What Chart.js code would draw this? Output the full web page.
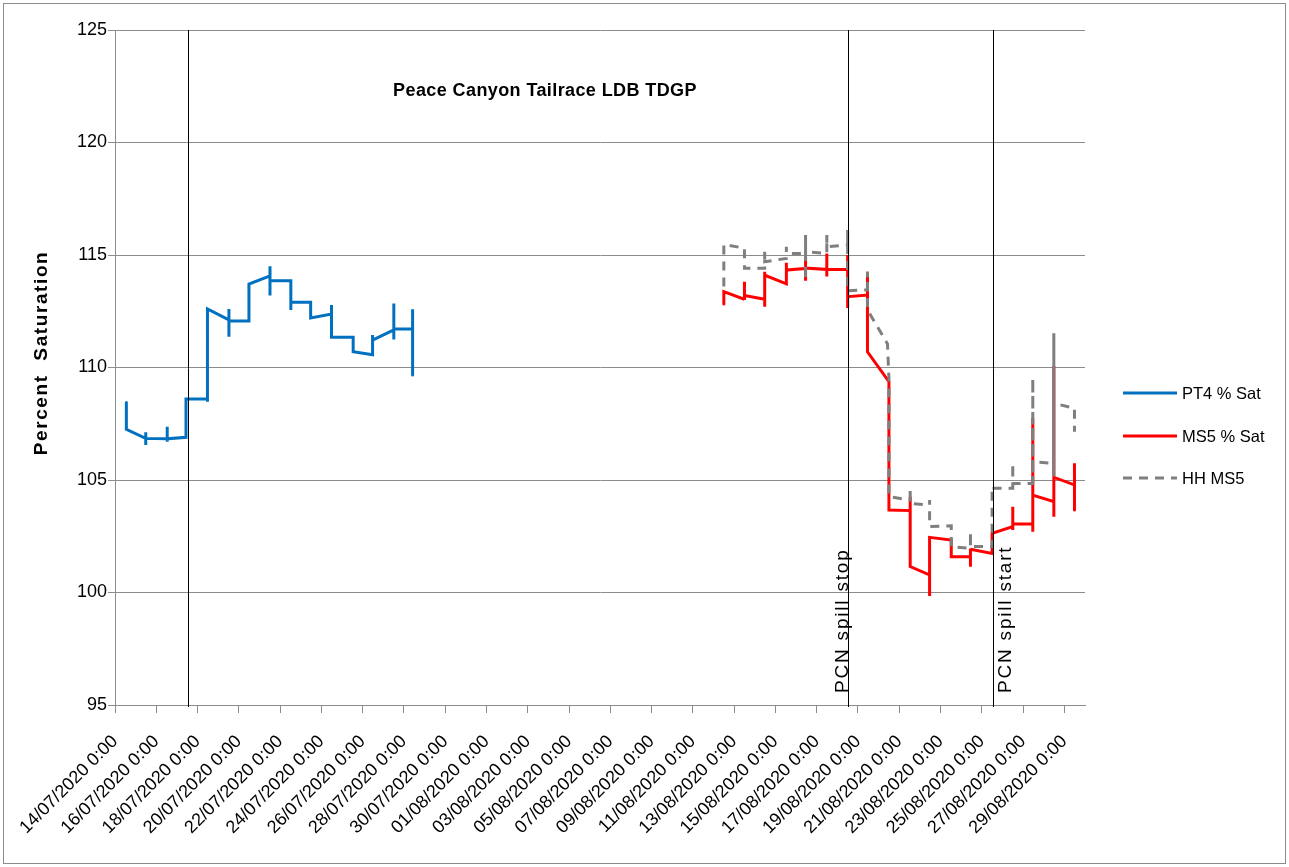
<!DOCTYPE html>
<html>
<head>
<meta charset="utf-8">
<title>Peace Canyon Tailrace LDB TDGP</title>
<script src="https://cdn.jsdelivr.net/npm/chart.js@4.4.1/dist/chart.umd.min.js"></script>
<style>
  html, body { margin: 0; padding: 0; background: #fff; }
  #wrap { position: relative; width: 1289px; height: 867px; }
</style>
</head>
<body>
<div id="wrap"><canvas id="tdgpChart" width="1289" height="867"></canvas></div>
<script>
// x values are days after 14/07/2020 0:00
const tickLabels = [
  '14/07/2020 0:00', '16/07/2020 0:00', '18/07/2020 0:00', '20/07/2020 0:00',
  '22/07/2020 0:00', '24/07/2020 0:00', '26/07/2020 0:00', '28/07/2020 0:00',
  '30/07/2020 0:00', '01/08/2020 0:00', '03/08/2020 0:00', '05/08/2020 0:00',
  '07/08/2020 0:00', '09/08/2020 0:00', '11/08/2020 0:00', '13/08/2020 0:00',
  '15/08/2020 0:00', '17/08/2020 0:00', '19/08/2020 0:00', '21/08/2020 0:00',
  '23/08/2020 0:00', '25/08/2020 0:00', '27/08/2020 0:00', '29/08/2020 0:00'
];

const pt4Days = [
  0.55, 0.55, 1.49, 1.49, 1.49, 1.49, 2.53, 2.53, 2.53, 2.53, 3.44, 3.44,
  4.48, 4.48, 4.48, 5.52, 5.52, 5.52, 5.52, 6.49, 6.49, 7.51, 7.51, 7.51, 7.51,
  8.52, 8.52, 8.52, 9.48, 9.48, 10.49, 10.49, 10.49, 10.49, 11.54, 11.54,
  12.48, 12.48, 12.48, 13.51, 13.51, 13.51, 13.51, 14.42, 14.42, 14.42
];
const pt4Sat = [
  108.44, 107.25, 106.85, 107.12, 106.56, 106.85, 106.83, 107.37, 106.70, 106.83, 106.90, 108.60,
  108.60, 108.48, 112.60, 112.11, 112.60, 111.37, 112.07, 112.07, 113.71, 114.07, 114.50, 113.20, 113.86,
  113.86, 112.56, 112.90, 112.90, 112.20, 112.38, 112.78, 111.31, 111.34, 111.34, 110.70,
  110.57, 111.44, 111.22, 111.67, 112.85, 111.25, 111.71, 111.71, 112.59, 109.67
];

const ms5Days = [
  29.5, 29.5, 30.5, 30.5, 30.5, 30.5, 31.48, 31.48, 31.48, 31.48, 32.53, 32.53, 32.53,
  33.46, 33.46, 33.46, 33.46, 34.49, 34.49, 34.49, 34.49, 35.5, 35.5, 35.5, 35.5,
  36.46, 36.46, 36.46, 37.5, 37.5, 38.53, 38.53, 38.53, 39.47, 39.47, 39.47,
  40.52, 40.52, 40.52, 41.45, 41.45, 41.45, 41.45, 42.5, 42.5, 43.5, 43.5, 43.5, 43.5,
  44.47, 44.47, 44.47, 44.47, 45.49, 45.49, 45.49, 45.49, 46.49, 46.49, 46.49
];
const ms5Sat = [
  112.82, 113.37, 113.03, 113.81, 113.0, 113.2, 113.03, 112.7, 114.26, 114.1, 113.72, 114.66, 114.33,
  114.4, 114.93, 113.86, 114.42, 114.36, 115.07, 114.04, 114.36, 114.36, 115.0, 112.64, 113.15,
  113.22, 114.26, 110.7, 109.37, 103.67, 103.64, 104.26, 101.15, 100.78, 99.84, 102.45,
  102.33, 101.52, 101.59, 101.59, 101.96, 101.15, 101.92, 101.74, 102.63, 102.93, 103.81, 102.78, 103.04,
  103.04, 102.7, 107.76, 104.33, 104.04, 103.37, 110.07, 105.12, 104.78, 105.74, 103.67
];

const hhDays = [
  29.5, 29.5, 30.5, 30.5, 30.5, 30.5, 31.48, 31.48, 31.48, 32.53, 32.53, 32.53,
  33.46, 33.46, 33.46, 33.46, 34.49, 34.49, 34.49, 35.5, 35.5, 35.5, 35.5,
  36.46, 36.46, 36.46, 37.43, 37.5, 37.5, 38.53, 38.53, 38.53, 39.47, 39.47, 39.47,
  40.52, 40.52, 41.45, 41.45, 41.45, 42.5, 42.5, 42.5, 43.5, 43.5, 43.5,
  44.47, 44.47, 44.47, 44.47, 45.49, 45.49, 45.49, 45.49, 46.49, 46.49
];
const hhSat = [
  113.6, 115.47, 115.3, 115.15, 114.48, 114.41, 114.41, 115.15, 114.7, 114.85, 115.37, 115.07,
  115.07, 115.89, 113.89, 115.15, 115.07, 115.89, 115.37, 115.44, 116.11, 113.37, 113.41,
  113.45, 114.26, 112.56, 111.05, 109.5, 104.26, 104.11, 104.63, 103.96, 103.89, 104.11, 102.93,
  102.96, 102.04, 101.96, 102.7, 102.04, 102.04, 104.7, 104.63, 104.63, 105.74, 104.85,
  104.85, 109.52, 104.93, 105.81, 105.74, 111.52, 105.15, 108.41, 108.19, 107.15
];

const eventDays = [3.53, 35.5, 42.52];
const eventLabels = ['', 'PCN spill stop', 'PCN spill start'];

const FONT = "'Liberation Sans', Arial, sans-serif";
const GRID = '#8c8c8c';

function toPoints(days, values) {
  return days.map((d, i) => ({ x: d, y: values[i] }));
}

// frame, event lines, titles and legend
const decorations = {
  id: 'decorations',
  beforeDraw(chart) {
    const ctx = chart.ctx;
    ctx.save();
    ctx.strokeStyle = '#8c8c8c';
    ctx.lineWidth = 1;
    ctx.strokeRect(3.5, 3.5, 1282, 860);
    ctx.restore();
  },
  afterDatasetsDraw(chart) {
    const ctx = chart.ctx;
    const area = chart.chartArea;
    const xs = chart.scales.x;
    ctx.save();
    ctx.strokeStyle = '#000';
    ctx.lineWidth = 1;
    eventDays.forEach((d, i) => {
      const px = Math.round(xs.getPixelForValue(d)) + 0.5;
      ctx.beginPath();
      ctx.moveTo(px, area.top);
      ctx.lineTo(px, area.bottom + 2);
      ctx.stroke();
      if (!eventLabels[i]) return;
      // stop label sits left of its line, start label right of it
      const ax = i === 1 ? px - 1 : px + 17;
      ctx.save();
      ctx.translate(ax, 693);
      ctx.rotate(-Math.PI / 2);
      ctx.fillStyle = '#000';
      ctx.font = '19px ' + FONT;
      ctx.letterSpacing = '1.8px';
      ctx.textAlign = 'left';
      ctx.textBaseline = 'alphabetic';
      ctx.fillText(eventLabels[i], 0, 0);
      ctx.restore();
    });
    ctx.restore();
  },
  afterDraw(chart) {
    const ctx = chart.ctx;
    ctx.save();
    ctx.fillStyle = '#000';
    ctx.font = 'bold 18px ' + FONT;
    ctx.letterSpacing = '0.4px';
    ctx.textAlign = 'center';
    ctx.textBaseline = 'middle';
    ctx.fillText('Peace Canyon Tailrace LDB TDGP', 545, 91);

    // y axis title
    ctx.save();
    ctx.translate(42, 353);
    ctx.rotate(-Math.PI / 2);
    ctx.font = 'bold 19px ' + FONT;
    ctx.letterSpacing = '1.6px';
    ctx.fillText('Percent  Saturation', 0, 0);
    ctx.restore();
    ctx.letterSpacing = '0px';

    // legend
    const rows = [393, 436, 478];
    ctx.font = '16.5px ' + FONT;
    ctx.textAlign = 'left';
    chart.data.datasets.forEach((ds, i) => {
      const y = rows[i];
      ctx.strokeStyle = ds.borderColor;
      ctx.lineWidth = 3;
      ctx.lineCap = 'butt';
      ctx.setLineDash(ds.borderDash || []);
      ctx.beginPath();
      ctx.moveTo(1123, y);
      ctx.lineTo(1177, y);
      ctx.stroke();
      ctx.setLineDash([]);
      ctx.fillText(ds.label, 1182, y + 1);
    });
    ctx.restore();
  }
};

new Chart(document.getElementById('tdgpChart'), {
  type: 'line',
  data: {
    datasets: [
      {
        label: 'PT4 % Sat',
        data: toPoints(pt4Days, pt4Sat),
        borderColor: '#0070c0',
        borderWidth: 3,
        borderCapStyle: 'round',
        order: 2
      },
      {
        label: 'MS5 % Sat',
        data: toPoints(ms5Days, ms5Sat),
        borderColor: '#ff0000',
        borderWidth: 3,
        borderCapStyle: 'round',
        order: 1
      },
      {
        label: 'HH MS5',
        data: toPoints(hhDays, hhSat),
        borderColor: '#7f7f7f',
        borderWidth: 3,
        borderDash: [9, 7],
        order: 0
      }
    ]
  },
  options: {
    responsive: false,
    animation: false,
    events: [],
    elements: {
      point: { radius: 0 },
      line: { tension: 0, fill: false }
    },
    layout: {
      padding: { left: 27, right: 204, top: 30, bottom: 0 }
    },
    plugins: {
      legend: { display: false },
      title: { display: false },
      tooltip: { enabled: false }
    },
    scales: {
      x: {
        type: 'linear',
        min: 0,
        max: 47,
        afterFit(scale) { scale.height = 162; },
        grid: {
          drawOnChartArea: false,
          drawTicks: true,
          tickLength: 8,
          color: GRID
        },
        border: { color: GRID, width: 1 },
        ticks: {
          stepSize: 2,
          includeBounds: false,
          autoSkip: false,
          maxRotation: 45,
          minRotation: 45,
          padding: 18,
          color: '#000',
          font: { family: FONT, size: 18 },
          callback: (value) => tickLabels[value / 2]
        }
      },
      y: {
        min: 95,
        max: 125,
        afterFit(scale) { scale.width = 88; },
        grid: {
          color: GRID,
          tickLength: 7
        },
        border: { color: GRID, width: 1 },
        ticks: {
          stepSize: 5,
          padding: 1,
          color: '#000',
          font: { family: FONT, size: 18 }
        }
      }
    }
  },
  plugins: [decorations]
});
</script>
</body>
</html>
